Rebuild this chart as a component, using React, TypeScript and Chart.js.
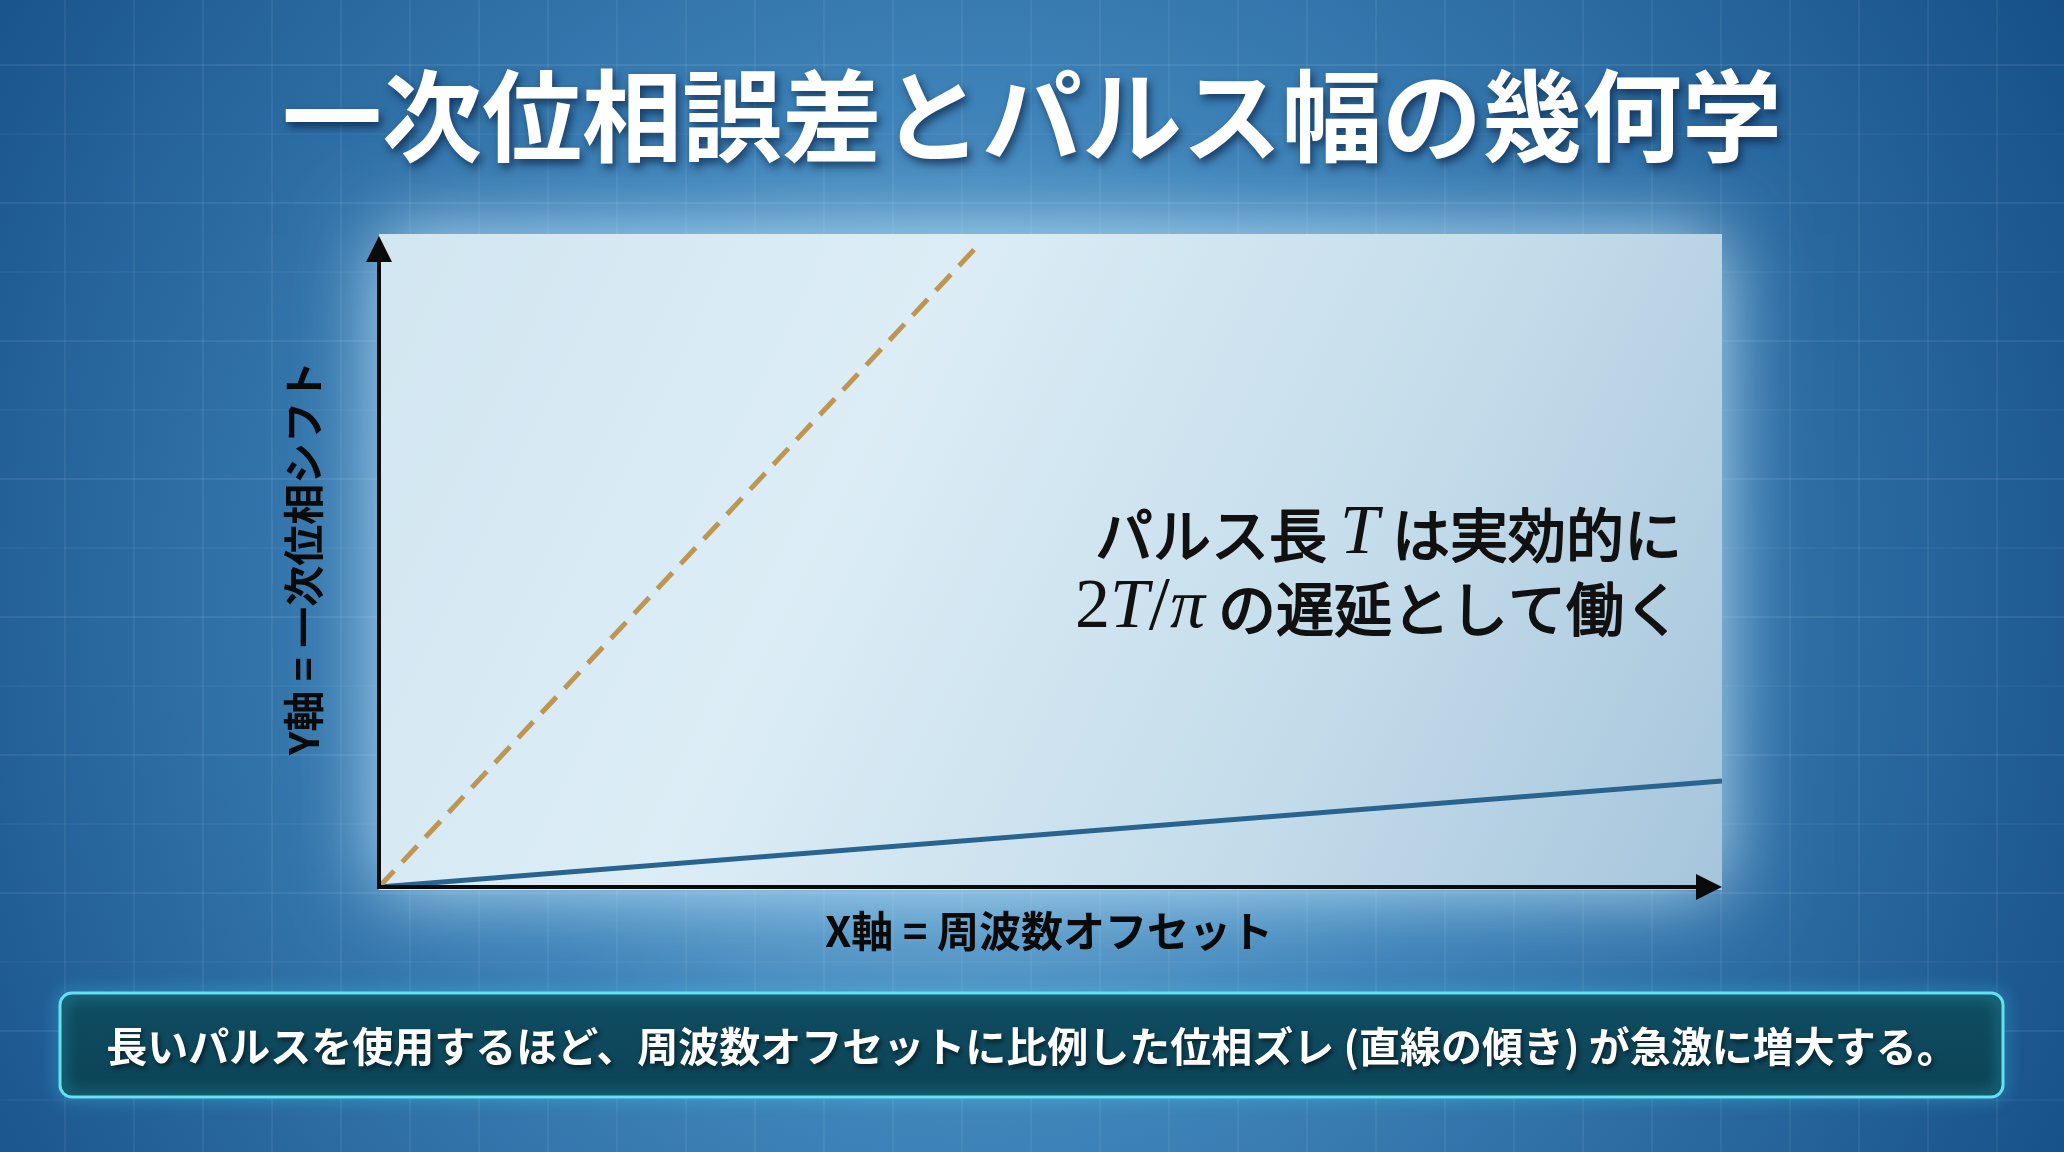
import React, { useEffect, useRef } from 'react';
import { Chart, registerables } from 'chart.js';

Chart.register(...registerables);

// values
const freqOffset = [0, 10];
const shortPulsePhase = [0, 1.63];
const longPulseOffset = [0, 4.48];
const longPulsePhase = [0, 9.9];

const titleText = '一次位相誤差とパルス幅の幾何学';
const xTitle = 'X軸 = 周波数オフセット';
const yTitle = 'Y軸 = 一次位相シフト';
const noteText = '長いパルスを使用するほど、周波数オフセットに比例した位相ズレ (直線の傾き) が急激に増大する。';

const JP = '"Noto Sans CJK JP", "Noto Sans", sans-serif';
const SERIF = '"Liberation Serif", "DejaVu Serif", serif';

type Run = { t: string; f: string; s?: number };

const drawRuns = (ctx: CanvasRenderingContext2D, runs: Run[], rightX: number, y: number) => {
  let total = 0;
  runs.forEach(r => {
    ctx.font = r.f;
    total += ctx.measureText(r.t).width;
  });
  let x = rightX - total;
  ctx.textAlign = 'left';
  runs.forEach(r => {
    ctx.font = r.f;
    ctx.fillText(r.t, x, y);
    if (r.s) {
      // thicken regular glyphs a little, the reference is a medium weight
      ctx.lineWidth = r.s;
      ctx.strokeText(r.t, x, y);
    }
    x += ctx.measureText(r.t).width;
  });
};

const slidePlugin = {
  id: 'slide',
  beforeDraw(chart: any) {
    const { ctx, width, height, chartArea } = chart;
    ctx.save();
    // blue backdrop
    const bg = ctx.createRadialGradient(960, 640, 40, 1000, 600, 1250);
    bg.addColorStop(0, '#74b2da');
    bg.addColorStop(0.4, '#3d82b8');
    bg.addColorStop(1, '#154e86');
    ctx.fillStyle = bg;
    ctx.fillRect(0, 0, width, height);

    // faint grid
    ctx.lineWidth = 1.5;
    for (let x = 65; x < width; x += 69) {
      ctx.strokeStyle = 'rgba(255,255,255,0.08)';
      ctx.beginPath();
      ctx.moveTo(x, 0);
      ctx.lineTo(x, height);
      ctx.stroke();
    }
    for (let k = 0, y = 65; y < height; y += 69, k++) {
      ctx.strokeStyle = k % 2 === 0 ? 'rgba(255,255,255,0.1)' : 'rgba(255,255,255,0.05)';
      ctx.beginPath();
      ctx.moveTo(0, y);
      ctx.lineTo(width, y);
      ctx.stroke();
    }

    // plot panel with glow
    const l = chartArea.left;
    const t = chartArea.top - 2;
    const r = chartArea.right;
    const b = chartArea.bottom + 3;
    ctx.shadowColor = 'rgba(190,228,248,0.95)';
    ctx.shadowBlur = 75;
    ctx.fillStyle = '#cfe4f0';
    ctx.fillRect(l, t, r - l, b - t);
    ctx.shadowBlur = 0;
    const pg = ctx.createLinearGradient(l, t, r, b);
    pg.addColorStop(0, '#d2e6f1');
    pg.addColorStop(0.35, '#dcedf6');
    pg.addColorStop(0.7, '#c4dcea');
    pg.addColorStop(1, '#a6c5dc');
    ctx.fillStyle = pg;
    ctx.fillRect(l, t, r - l, b - t);
    ctx.restore();
  },
  afterDatasetsDraw(chart: any) {
    const { ctx, scales } = chart;
    const x0 = scales.x.getPixelForValue(0);
    const y0 = scales.y.getPixelForValue(0);
    const xEnd = scales.x.getPixelForValue(10);
    const yEnd = scales.y.getPixelForValue(10);
    ctx.save();
    ctx.strokeStyle = '#0b0b0b';
    ctx.fillStyle = '#0b0b0b';
    ctx.lineWidth = 4;
    ctx.beginPath();
    ctx.moveTo(x0, y0 + 2);
    ctx.lineTo(x0, yEnd + 20);
    ctx.moveTo(x0 - 2, y0);
    ctx.lineTo(xEnd - 20, y0);
    ctx.stroke();
    ctx.beginPath();
    ctx.moveTo(x0, yEnd);
    ctx.lineTo(x0 - 13, yEnd + 26);
    ctx.lineTo(x0 + 13, yEnd + 26);
    ctx.closePath();
    ctx.fill();
    ctx.beginPath();
    ctx.moveTo(xEnd, y0);
    ctx.lineTo(xEnd - 26, y0 - 13);
    ctx.lineTo(xEnd - 26, y0 + 13);
    ctx.closePath();
    ctx.fill();
    ctx.restore();
  },
  afterDraw(chart: any) {
    const { ctx, width } = chart;
    ctx.save();
    ctx.textBaseline = 'middle';

    // heading
    ctx.textAlign = 'center';
    ctx.font = `bold 100px ${JP}`;
    ctx.shadowColor = 'rgba(0,20,50,0.6)';
    ctx.shadowOffsetX = 3;
    ctx.shadowOffsetY = 5;
    ctx.shadowBlur = 8;
    ctx.fillStyle = '#ffffff';
    ctx.fillText(titleText, width / 2, 116);
    ctx.shadowColor = 'transparent';
    ctx.shadowBlur = 0;
    ctx.shadowOffsetX = 0;
    ctx.shadowOffsetY = 0;

    // axis titles
    ctx.fillStyle = '#0a0a0a';
    ctx.font = `bold 42px ${JP}`;
    ctx.fillText(xTitle, 1049, 931);
    ctx.save();
    ctx.translate(303, 558);
    ctx.rotate(-Math.PI / 2);
    ctx.font = `bold 41px ${JP}`;
    ctx.fillText(yTitle, 0, 0);
    ctx.restore();

    // annotation
    ctx.fillStyle = '#111111';
    ctx.strokeStyle = '#111111';
    ctx.lineJoin = 'round';
    const jp = `58px ${JP}`;
    const it = `italic 70px ${SERIF}`;
    const up = `70px ${SERIF}`;
    drawRuns(ctx, [
      { t: 'パルス長 ', f: jp, s: 1.8 },
      { t: 'T', f: it },
      { t: ' は実効的に', f: jp, s: 1.8 },
    ], 1682, 535);
    drawRuns(ctx, [
      { t: '2', f: up },
      { t: 'T', f: it },
      { t: '/', f: `76px ${SERIF}` },
      { t: 'π', f: it },
      { t: ' の遅延として働く', f: jp, s: 1.8 },
    ], 1682, 609);

    // takeaway box
    const bx = 60, by = 993, bw = 1943, bh = 104;
    ctx.beginPath();
    ctx.roundRect(bx, by, bw, bh, 12);
    const bf = ctx.createLinearGradient(0, by, 0, by + bh);
    bf.addColorStop(0, '#0f4d62');
    bf.addColorStop(1, '#0c4356');
    ctx.fillStyle = bf;
    ctx.fill();
    ctx.shadowColor = 'rgba(70,220,240,0.9)';
    ctx.shadowBlur = 16;
    ctx.strokeStyle = '#62e2f2';
    ctx.lineWidth = 3;
    ctx.stroke();
    ctx.shadowColor = 'rgba(0,0,0,0.55)';
    ctx.shadowBlur = 5;
    ctx.shadowOffsetX = 2;
    ctx.shadowOffsetY = 3;
    ctx.textAlign = 'center';
    ctx.fillStyle = '#ffffff';
    ctx.font = `bold 41px ${JP}`;
    ctx.fillText(noteText, width / 2, by + bh / 2 + 1);
    ctx.restore();
  },
};

const App: React.FC = () => {
  const canvasRef = useRef<HTMLCanvasElement | null>(null);

  useEffect(() => {
    if (!canvasRef.current) return;
    const chart = new Chart(canvasRef.current, {
      type: 'scatter',
      data: {
        datasets: [
          {
            label: 'long pulse',
            data: longPulseOffset.map((x, i) => ({ x, y: longPulsePhase[i] })),
            showLine: true,
            borderColor: '#bf9552',
            borderWidth: 5,
            borderDash: [22, 12],
            pointRadius: 0,
          },
          {
            label: 'short pulse',
            data: freqOffset.map((x, i) => ({ x, y: shortPulsePhase[i] })),
            showLine: true,
            borderColor: '#28648f',
            borderWidth: 5,
            pointRadius: 0,
          },
        ],
      },
      options: {
        responsive: false,
        animation: false,
        layout: { padding: { left: 379, top: 236, right: 342, bottom: 265 } },
        scales: {
          x: { type: 'linear', min: 0, max: 10, display: false },
          y: { type: 'linear', min: 0, max: 10, display: false },
        },
        plugins: {
          legend: { display: false },
          tooltip: { enabled: false },
        },
      },
      plugins: [slidePlugin],
    });
    return () => chart.destroy();
  }, []);

  return (
    <div style={{ position: 'fixed', left: 0, top: 0, width: 2064, height: 1152 }}>
      <canvas ref={canvasRef} width={2064} height={1152} />
    </div>
  );
};

export default App;
